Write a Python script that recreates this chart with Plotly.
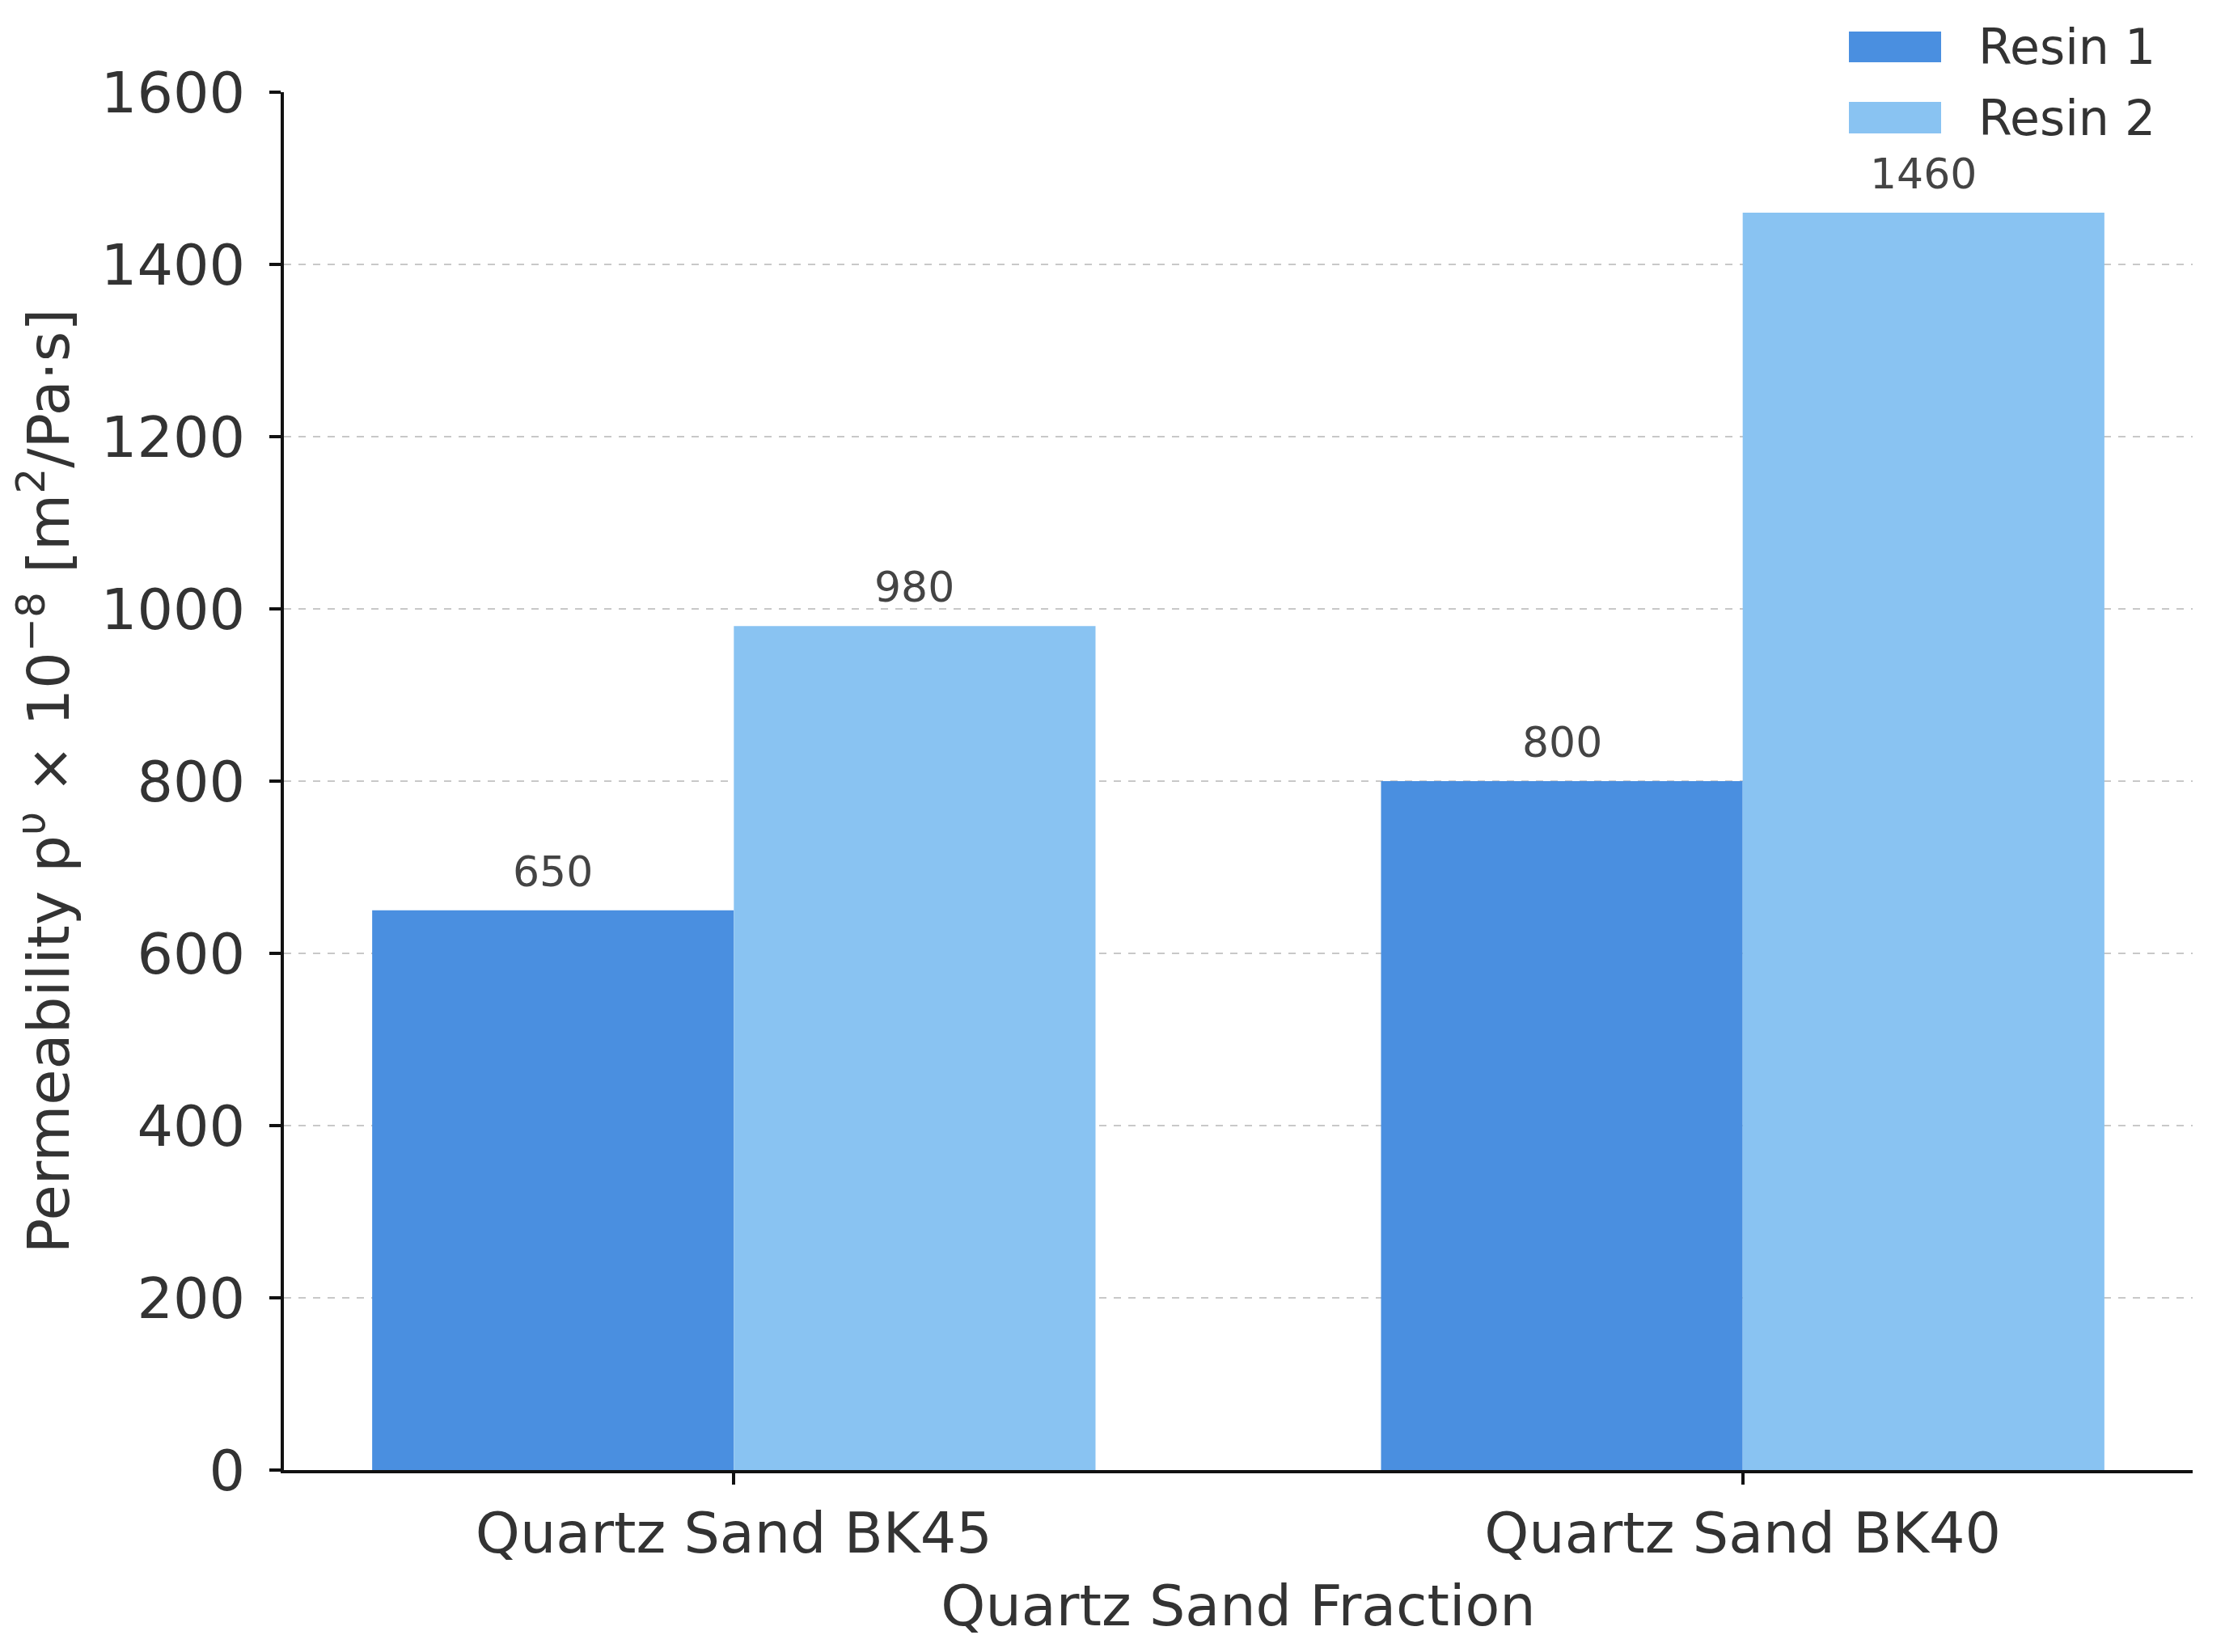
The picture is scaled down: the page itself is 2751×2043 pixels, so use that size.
import plotly.graph_objects as go

categories = ["Quartz Sand BK45", "Quartz Sand BK40"]
series_names = ["Resin 1", "Resin 2"]
resin1 = [650, 800]
resin2 = [980, 1460]
colors = ["#4A8FE0", "#89C3F2"]
y_ticks = [0, 200, 400, 600, 800, 1000, 1200, 1400, 1600]

FONT = "DejaVu Sans"
TXT = "#333333"
LABEL_TXT = "#444444"
BARGAP = 0.283

fig = go.Figure()
series = [resin1, resin2]
for name, vals, col in zip(series_names, series, colors):
    fig.add_trace(go.Bar(
        x=categories, y=vals, name=name,
        marker=dict(color=col, line=dict(width=0)),
        showlegend=False,
    ))

# value labels above bars (group offsets derived from bargap)
bar_w = (1 - BARGAP) / len(series)
for s_idx, vals in enumerate(series):
    off = (s_idx - (len(series) - 1) / 2) * bar_w
    for c_idx, v in enumerate(vals):
        fig.add_annotation(x=c_idx + off, y=v, xref="x", yref="y",
                           text=str(v), showarrow=False,
                           xanchor="center", yanchor="bottom", yshift=16,
                           font=dict(family=FONT, size=52, color=LABEL_TXT))

# page offset (browser body margin) compensation
OFF = 8
W, H = 2751, 2043
# target plot area in screenshot pixels
PL, PR, PT, PB = 351, 2711, 114, 1818
L = PL - OFF
T = PT - OFF
R = W - (PR - OFF)
B = H - (PB - OFF)
pw, ph = PR - PL, PB - PT

def px(x):
    return (x - PL) / pw

def py(y):
    return (PB - y) / ph

# manual legend (large patches like the reference)
legend_rows = [(39, 77), (126, 165)]
for (y0, y1), name, col in zip(legend_rows, series_names, colors):
    fig.add_shape(type="rect", xref="paper", yref="paper",
                  x0=px(2286), x1=px(2400), y0=py(y1), y1=py(y0),
                  fillcolor=col, line=dict(width=0), layer="above")
    fig.add_annotation(xref="paper", yref="paper", x=px(2444), y=py((y0 + y1) / 2),
                       text=name, showarrow=False, xanchor="left", yanchor="middle",
                       font=dict(family=FONT, size=60, color=TXT))

fig.update_layout(
    width=W, height=H,
    margin=dict(l=L, r=R, t=T, b=B),
    paper_bgcolor="white", plot_bgcolor="white",
    barmode="group", bargap=BARGAP, bargroupgap=0,
    font=dict(family=FONT, size=68, color=TXT),
    xaxis=dict(
        range=[-0.446, 1.446],
        showline=True, linecolor="#111111", linewidth=4,
        ticks="outside", ticklen=14, tickwidth=4, tickcolor="#111111",
        tickfont=dict(family=FONT, size=70, color=TXT),
        title=dict(text="Quartz Sand Fraction", standoff=26,
                   font=dict(family=FONT, size=70, color=TXT)),
        showgrid=False, zeroline=False,
    ),
    yaxis=dict(
        range=[0, 1600], tickvals=y_ticks,
        showline=True, linecolor="#111111", linewidth=4,
        ticks="outside", ticklen=14, tickwidth=4, tickcolor="#111111",
        ticklabelstandoff=16,
        tickfont=dict(family=FONT, size=70, color=TXT),
        showgrid=True, gridcolor="#c8c8c8", gridwidth=2, griddash="dash",
        zeroline=False,
        title=dict(text="Permeability p<sup>υ</sup> × 10<sup>−8</sup> [m<sup>2</sup>/Pa·s]",
                   standoff=34, font=dict(family=FONT, size=72, color=TXT)),
    ),
)

fig.write_html("out.html")
